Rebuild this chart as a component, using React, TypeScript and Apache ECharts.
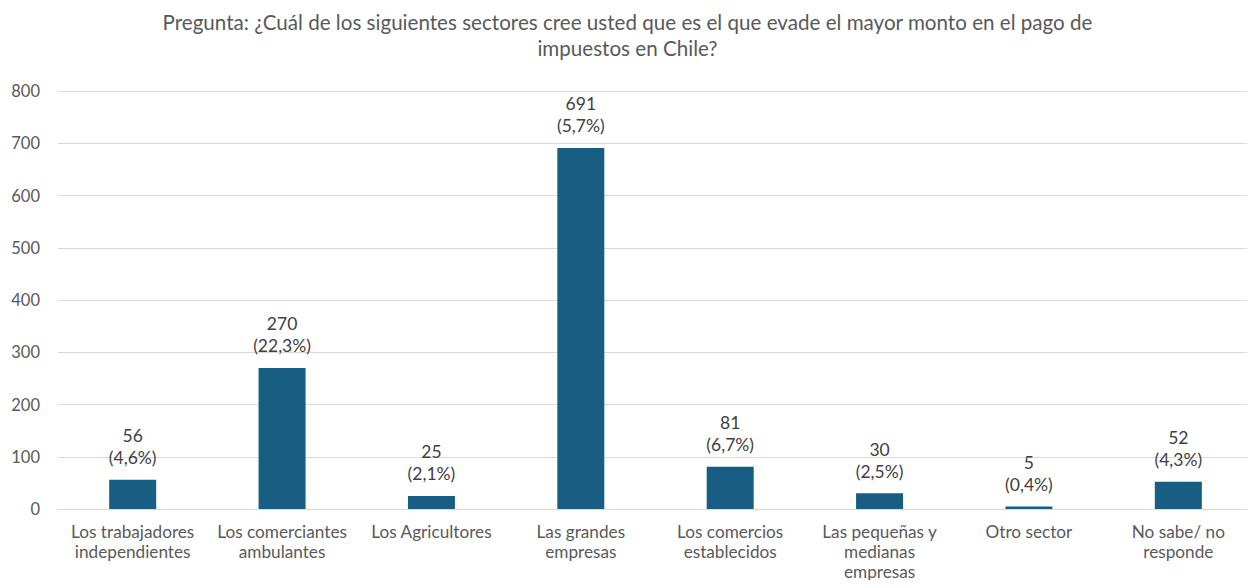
import React, { useEffect, useRef } from "react";
import * as echarts from "echarts";

const categories = [
  "Los trabajadores\nindependientes",
  "Los comerciantes\nambulantes",
  "Los Agricultores",
  "Las grandes\nempresas",
  "Los comercios\nestablecidos",
  "Las pequeñas y\nmedianas\nempresas",
  "Otro sector",
  "No sabe/ no\nresponde",
];
const values = [56, 270, 25, 691, 81, 30, 5, 52];
const percents = ["4,6%", "22,3%", "2,1%", "5,7%", "6,7%", "2,5%", "0,4%", "4,3%"];
const titleText =
  "Pregunta: ¿Cuál de los siguientes sectores cree usted que es el que evade el mayor monto en el pago de\nimpuestos en Chile?";

const FONT = "Lato, 'Open Sans', sans-serif";

export default function App() {
  const ref = useRef<HTMLDivElement>(null);
  useEffect(() => {
    if (!ref.current) return;
    const chart = echarts.init(ref.current, undefined, { renderer: "svg" });
    chart.setOption({
      animation: false,
      title: {
        text: titleText,
        left: "center",
        top: 4,
        textStyle: {
          fontFamily: FONT,
          fontSize: 20.6,
          fontWeight: "normal",
          color: "#595959",
          lineHeight: 26,
        },
      },
      grid: { left: 58, right: 2, top: 91, bottom: 79, containLabel: false },
      xAxis: {
        type: "category",
        data: categories,
        axisLine: { lineStyle: { color: "#d9d9d9", width: 1 } },
        axisTick: { show: false },
        axisLabel: {
          interval: 0,
          margin: 12,
          fontFamily: FONT,
          fontSize: 17.2,
          color: "#595959",
          lineHeight: 20.3,
        },
      },
      yAxis: {
        type: "value",
        min: 0,
        max: 800,
        interval: 100,
        axisLine: { show: false },
        axisTick: { show: false },
        splitLine: { lineStyle: { color: "#d9d9d9", width: 1 } },
        axisLabel: {
          margin: 18,
          fontFamily: FONT,
          fontSize: 16.5,
          color: "#595959",
        },
      },
      series: [
        {
          type: "bar",
          data: values,
          barWidth: 47,
          itemStyle: { color: "#175E82" },
          label: {
            show: true,
            position: "top",
            distance: 11,
            fontFamily: FONT,
            fontSize: 17.5,
            color: "#404040",
            lineHeight: 22,
            formatter: (p: any) => `${p.value}\n(${percents[p.dataIndex]})`,
          },
        },
      ],
    });
    return () => chart.dispose();
  }, []);
  return <div ref={ref} style={{ width: 1255, height: 588, margin: -8 }} />;
}
